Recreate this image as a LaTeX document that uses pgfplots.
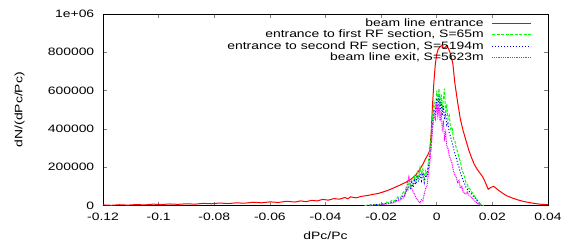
\documentclass[border=0pt]{standalone}
\usepackage{fontspec}
\setmainfont[FakeStretch=1.3]{Liberation Sans}
\usepackage{pgfplots}
\pgfplotsset{compat=1.18}
\definecolor{gpred}{RGB}{255,0,0}
\definecolor{gpgreen}{RGB}{0,255,0}
\definecolor{gpblue}{RGB}{0,0,255}
\definecolor{gpmag}{RGB}{255,0,255}
\pgfplotsset{
  gpline/.style={legend image code/.code={\draw[##1, line width=1.1bp] (0bp,0bp) -- (39bp,0bp);}},
}
\begin{document}
\fontsize{10.7bp}{12bp}\selectfont
\begin{tikzpicture}
\useasboundingbox (-103bp,-37.5bp) rectangle (467bp,205.5bp);
\begin{axis}[
  scale only axis,
  width=445bp, height=191.5bp,
  xmin=-0.12, xmax=0.04, ymin=0, ymax=1000000,
  xtick={-0.12,-0.1,-0.08,-0.06,-0.04,-0.02,0,0.02,0.04},
  xticklabels={-0.12,-0.1,-0.08,-0.06,-0.04,-0.02,0,0.02,0.04},
  ytick={0,200000,400000,600000,800000,1000000},
  yticklabels={0,200000,400000,600000,800000,1e+06},
  scaled ticks=false,
  tick align=inside,
  major tick length=4bp,
  axis line style={line width=0.8bp},
  tick style={line width=0.6bp},
  yticklabel style={xshift=-5bp},
  xticklabel style={yshift=-3.5bp},
  xlabel={dPc/Pc},
  ylabel={dN/(dPc/Pc)},
  every axis x label/.style={at={(axis description cs:0.5,0)}, yshift=-30bp, anchor=center},
  every axis y label/.style={at={(axis description cs:0,0.5)}, xshift=-83.5bp, rotate=90, anchor=center},
  legend plot pos=right,
  legend cell align=right,
  legend style={draw=none, fill=none, inner sep=0pt, at={(rel axis cs:1,1)}, anchor=north east, xshift=-16bp, yshift=-4bp,
    nodes={inner sep=0pt, text height=8bp, text depth=2bp}, row sep=1.5bp, column sep=8bp},
  gpline,
]
\addplot[color=gpred, line width=1bp] coordinates {
(-0.12,3000) (-0.117,1000) (-0.114,4000) (-0.111,2000) (-0.108,5000) (-0.105,3000)
(-0.102,7000) (-0.099,5000) (-0.096,8000) (-0.093,6000) (-0.09,9000) (-0.087,7000)
(-0.084,11000) (-0.081,9000) (-0.078,13000) (-0.075,10000) (-0.072,14000) (-0.069,12000)
(-0.066,17000) (-0.063,14000) (-0.06,19000) (-0.057,16000) (-0.054,22000) (-0.051,18000)
(-0.049,24000) (-0.047,20000) (-0.045,27000) (-0.043,24000) (-0.041,32000) (-0.039,28000)
(-0.037,36000) (-0.035,33000) (-0.033,42000) (-0.032,35000) (-0.031,45000) (-0.029,40000)
(-0.027,48000) (-0.025,52000) (-0.023,58000) (-0.021,63000) (-0.019,72000) (-0.017,82000)
(-0.015,95000) (-0.013,108000) (-0.011,122000) (-0.009,140000) (-0.0075,160000) (-0.006,190000)
(-0.005,215000) (-0.004,245000) (-0.003,270000) (-0.0025,290000) (-0.002,380000)
(-0.0015,530000) (-0.001,650000) (-0.0005,740000) (0.0,790000) (0.0005,815000)
(0.0012,830000) (0.0018,835000) (0.0025,822000) (0.003,825000) (0.0036,835000)
(0.0042,820000) (0.005,790000) (0.0058,740000) (0.0065,640000) (0.0075,540000)
(0.0085,450000) (0.0095,390000) (0.0105,340000) (0.0115,290000) (0.0125,250000)
(0.0135,215000) (0.0145,190000) (0.0155,170000) (0.0165,150000) (0.0175,120000)
(0.0185,85000) (0.0195,95000) (0.0205,100000) (0.022,82000) (0.0235,66000)
(0.025,52000) (0.027,40000) (0.029,30000) (0.031,22000) (0.033,16000) (0.035,11000)
(0.037,7000) (0.04,4000)
};
\addlegendentry{beam line entrance}
\addplot[color=gpgreen, line width=1bp, dash pattern=on 3bp off 1.5bp] coordinates {
(-0.026,0) (-0.024,3000) (-0.022,6000) (-0.021,2000) (-0.020,10000) (-0.019,8000)
(-0.018,18000) (-0.017,15000) (-0.016,30000) (-0.015,25000) (-0.014,45000) (-0.013,40000)
(-0.012,70000) (-0.0115,60000) (-0.011,95000) (-0.0105,85000) (-0.010,115000) (-0.0095,100000)
(-0.009,130000) (-0.0085,110000) (-0.008,150000) (-0.0075,125000) (-0.007,175000)
(-0.0065,150000) (-0.006,200000) (-0.0055,165000) (-0.005,190000) (-0.0045,140000)
(-0.004,180000) (-0.0035,160000) (-0.003,230000) (-0.0025,280000) (-0.002,360000)
(-0.0015,470000) (-0.001,540000) (-0.0005,500000) (0.0,600000) (0.0004,540000)
(0.0008,610000) (0.0012,520000) (0.0016,580000) (0.002,500000) (0.0024,560000)
(0.0028,610000) (0.0032,480000) (0.0036,530000) (0.004,450000) (0.0045,470000)
(0.005,400000) (0.0055,410000) (0.006,350000) (0.0065,340000) (0.007,300000)
(0.0075,280000) (0.008,250000) (0.0085,230000) (0.009,190000) (0.0095,170000)
(0.010,150000) (0.0105,120000) (0.011,110000) (0.0115,90000) (0.012,85000)
(0.0125,70000) (0.013,65000) (0.0135,50000) (0.014,40000) (0.0145,30000)
(0.015,20000) (0.0155,12000) (0.016,5000) (0.0165,2000) (0.017,0)
};
\addlegendentry{entrance to first RF section, S=65m}
\addplot[color=gpblue, line width=1bp, dash pattern=on 1bp off 2bp] coordinates {
(-0.025,0) (-0.023,3000) (-0.021,5000) (-0.019,8000) (-0.018,12000) (-0.017,10000)
(-0.016,20000) (-0.015,18000) (-0.014,35000) (-0.013,32000) (-0.012,55000) (-0.0115,50000)
(-0.011,80000) (-0.0105,75000) (-0.010,100000) (-0.0095,90000) (-0.009,120000)
(-0.0085,95000) (-0.008,130000) (-0.0075,110000) (-0.007,155000) (-0.0065,125000)
(-0.006,165000) (-0.0055,130000) (-0.005,170000) (-0.0045,120000) (-0.004,160000)
(-0.0035,150000) (-0.003,200000) (-0.0025,250000) (-0.002,320000) (-0.0015,430000)
(-0.001,500000) (-0.0005,470000) (0.0,560000) (0.0004,500000) (0.0008,570000)
(0.0012,490000) (0.0016,540000) (0.002,470000) (0.0024,520000) (0.0028,450000)
(0.0032,480000) (0.0036,420000) (0.004,430000) (0.0045,380000) (0.005,360000)
(0.0055,330000) (0.006,300000) (0.0065,270000) (0.007,250000) (0.0075,220000)
(0.008,200000) (0.0085,170000) (0.009,150000) (0.0095,130000) (0.010,115000)
(0.0105,95000) (0.011,85000) (0.0115,75000) (0.012,70000) (0.0125,60000)
(0.013,50000) (0.0135,45000) (0.014,35000) (0.0145,25000) (0.015,15000)
(0.0155,7000) (0.016,2000) (0.0165,0)
};
\addlegendentry{entrance to second RF section, S=5194m}
\addplot[color=gpmag, line width=1bp, dash pattern=on 1bp off 0.8bp] coordinates {
(-0.024,0) (-0.022,2000) (-0.020,4000) (-0.018,8000) (-0.016,12000) (-0.014,25000)
(-0.013,30000) (-0.012,40000) (-0.011,70000) (-0.0105,120000) (-0.010,150000)
(-0.0095,110000) (-0.009,90000) (-0.0085,70000) (-0.008,60000) (-0.0075,40000)
(-0.007,30000) (-0.0065,20000) (-0.006,15000) (-0.0055,30000) (-0.005,25000)
(-0.0045,60000) (-0.004,90000) (-0.0035,100000) (-0.003,170000) (-0.0025,220000)
(-0.002,300000) (-0.0015,400000) (-0.001,470000) (-0.0005,450000) (0.0,530000)
(0.0004,470000) (0.0008,520000) (0.0012,440000) (0.0016,490000) (0.002,400000)
(0.0024,430000) (0.0028,350000) (0.0032,380000) (0.0036,310000) (0.004,300000)
(0.0045,260000) (0.005,240000) (0.0055,220000) (0.006,180000) (0.0065,160000)
(0.007,150000) (0.0075,120000) (0.008,130000) (0.0085,90000) (0.009,100000)
(0.0095,70000) (0.010,65000) (0.0105,60000) (0.011,70000) (0.0115,55000)
(0.012,50000) (0.0125,40000) (0.013,35000) (0.0135,25000) (0.014,20000)
(0.0145,12000) (0.015,6000) (0.0155,2000) (0.016,0)
};
\addlegendentry{beam line exit, S=5623m}
\end{axis}
\end{tikzpicture}
\end{document}
